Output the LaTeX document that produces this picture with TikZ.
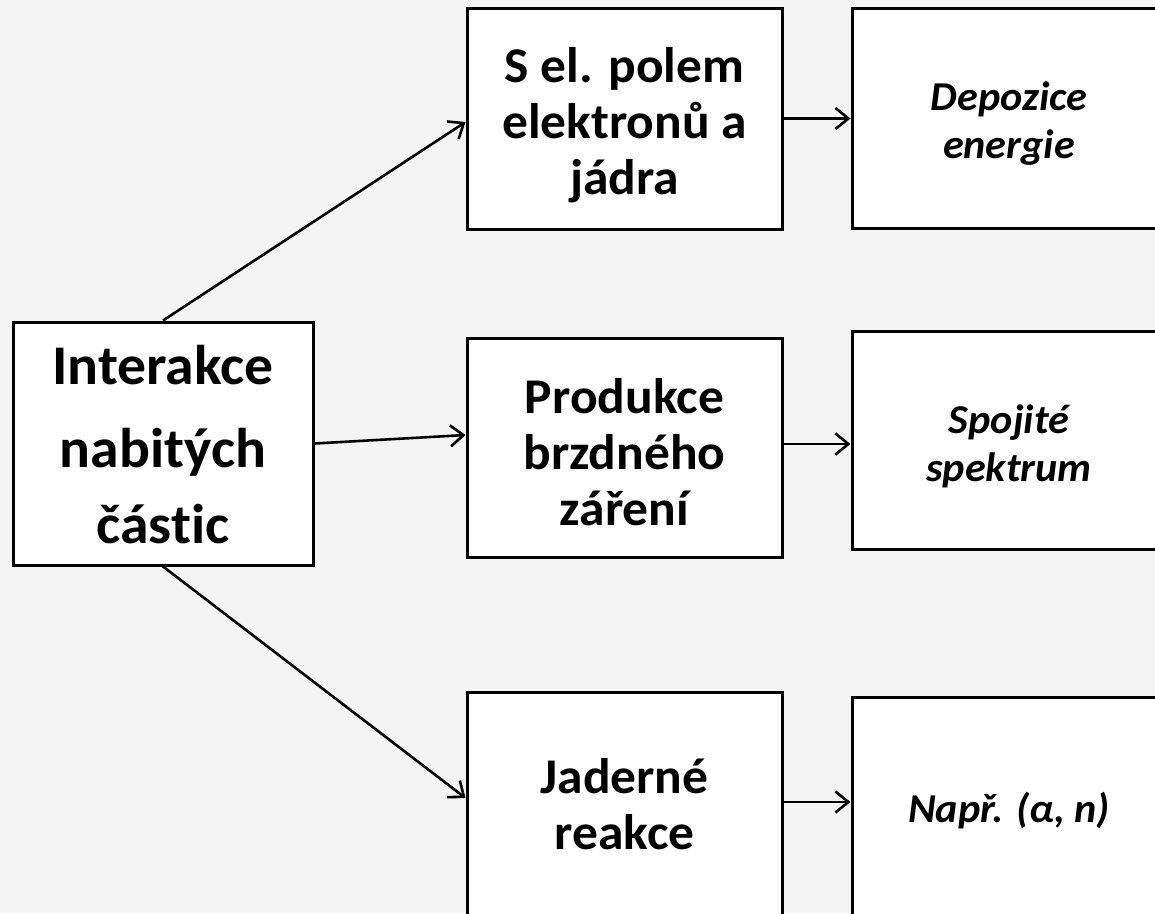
\documentclass[tikz,border=0pt]{standalone}
\usepackage{fontspec}
\setmainfont{Carlito}[Ligatures=NoCommon, FakeStretch=1.03]
\usetikzlibrary{arrows.meta}
\definecolor{bg}{HTML}{F4F4F4}
\tikzset{
 box/.style={draw=black, line width=3pt, fill=white, inner sep=0pt},
 txt/.style={inner sep=0pt, align=center},
 big/.style={txt, font=\fontsize{56}{65}\selectfont\bfseries},
 mid/.style={txt, font=\fontsize{50}{56}\selectfont\bfseries},
 res/.style={txt, font=\fontsize{41}{48}\selectfont\bfseries\itshape},
 arr/.style={line width=2.6pt, -{Straight Barb[length=13pt,width=21pt,line width=2.6pt]}}
}
\begin{document}
\begin{tikzpicture}[x=1pt,y=-1pt]
\fill[bg] (0,0) rectangle (1155,913);
\useasboundingbox (0,0) rectangle (1155,913);
\clip (0,0) rectangle (1155,913);
% boxes
\node[box,minimum width=300pt,minimum height=243pt] (L) at (163,443.5) {};
\node[box,minimum width=315pt,minimum height=221pt] (M1) at (624.5,118.5) {};
\node[box,minimum width=315pt,minimum height=219pt] (M2) at (624.5,447.5) {};
\node[box,minimum width=315pt,minimum height=226pt] (M3) at (624.5,805) {};
\node[box,minimum width=314pt,minimum height=220pt] (R1) at (1009,118) {};
\node[box,minimum width=314pt,minimum height=218pt] (R2) at (1009,440) {};
\node[box,minimum width=314pt,minimum height=226pt] (R3) at (1009,810) {};
% texts
\node[big] (Lt) at (163,445) {Interakce\\[18pt]nabitých\\[11pt]částic};
\node[mid] (M1t) at (624.5,125) {S el. polem\\elektronů a\\jádra};
\node[mid] (M2t) at (624.5,452) {Produkce\\brzdného\\záření};
\node[mid] (M3t) at (624.5,804) {Jaderné\\reakce};
\node[res] (R1t) at (1009,124) {Depozice\\energie};
\node[res] (R2t) at (1009,446) {Spojité\\spektrum};
\node[res] (R3t) at (1009,811) {Např. (α, n)};
% connectors
\draw[arr] (L.north) -- ([yshift=-3.5pt]M1.west);
\draw[arr] (L.east) -- ([yshift=12.5pt]M2.west);
\draw[arr] (L.south) -- ([yshift=7pt]M3.west);
\draw[arr] (M1.east) -- (M1.east -| R1.west);
\draw[arr] ([yshift=3.5pt]M2.east) coordinate (m2e) -- (m2e -| R2.west);
\draw[arr] ([yshift=3pt]M3.east) coordinate (m3e) -- (m3e -| R3.west);
\end{tikzpicture}
\end{document}
